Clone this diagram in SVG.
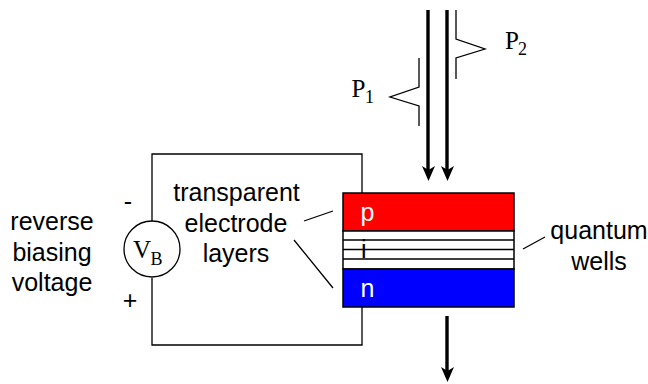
<svg xmlns="http://www.w3.org/2000/svg" width="648" height="384" viewBox="0 0 648 384">
<style>
.s{font-family:"Liberation Sans",Arial,sans-serif;font-size:25px;fill:#000}
.t{font-family:"Liberation Serif","Times New Roman",serif;fill:#000}
.l{fill:none;stroke:#000;stroke-width:1.3}
.b{fill:none;stroke:#000;stroke-width:3.4}
.h{fill:#000;stroke:none}
</style>
<rect width="648" height="384" fill="#fff"/>
<g id="connectors">
<path class="l" d="M152 221V154H362V193M152 278V345H362V306"/>
<path class="l" d="M304 221L333 211M294 240L333 288M523 249L545 237"/>
<path class="b" d="M428 10V170M447 10V170M447 316V371"/>
<path class="h" d="M422 166L428.500 170L435 166L428.500 181ZM441 166L447.500 170L454 166L447.500 181ZM441 367L447.500 371L454 367L447.500 382Z"/>
<path class="l" d="M419 58V87L390 97L419 106V126M456 10V39L485 49L456 58V79"/>
</g>
<g id="p-layer"><rect x="343" y="193" width="171" height="38" fill="#f00" stroke="#000" stroke-width="1.500"/><text class="s" x="360.500" y="221" style="fill:#fff">p</text></g>
<g id="i-layer"><rect x="343" y="231" width="171" height="38" fill="#fff" stroke="#000" stroke-width="1.500"/><path class="l" d="M343 240H514M343 249.500H514M343 259H514"/><text class="s" x="361" y="258">i</text></g>
<g id="n-layer"><rect x="343" y="269" width="171" height="38" fill="#00f" stroke="#000" stroke-width="1.500"/><text class="s" x="360.500" y="297" style="fill:#fff">n</text></g>
<g id="source"><circle cx="152" cy="249" r="28" fill="#fff" stroke="#000" stroke-width="1.300"/><text class="t" x="133" y="258" font-size="25">V</text><text class="t" x="150.500" y="265" font-size="18">B</text></g>
<g id="labels">
<text class="s" x="128" y="210" text-anchor="middle">-</text>
<text class="s" x="130" y="308.500" text-anchor="middle">+</text>
<text class="s" x="236.500" y="201" text-anchor="middle">transparent</text>
<text class="s" x="236" y="232" text-anchor="middle">electrode</text>
<text class="s" x="236" y="262" text-anchor="middle">layers</text>
<text class="s" x="52" y="230" text-anchor="middle">reverse</text>
<text class="s" x="52" y="261" text-anchor="middle">biasing</text>
<text class="s" x="52" y="291" text-anchor="middle">voltage</text>
<text class="s" x="599" y="239" text-anchor="middle">quantum</text>
<text class="s" x="599" y="270" text-anchor="middle">wells</text>
<text class="t" x="351.500" y="97" font-size="25">P</text><text class="t" x="365" y="103" font-size="18">1</text>
<text class="t" x="505" y="49" font-size="25">P</text><text class="t" x="518" y="55" font-size="18">2</text>
</g>
</svg>
